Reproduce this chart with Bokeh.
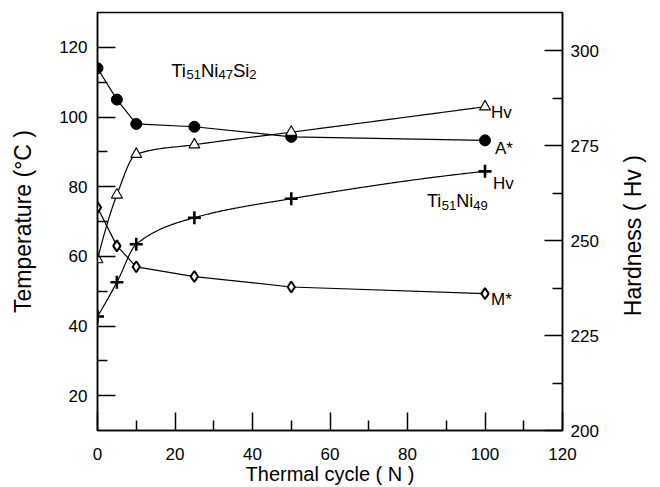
import math
import numpy as np
from bokeh.plotting import figure
from bokeh.layouts import row
from bokeh.models import Range1d, LinearAxis, FixedTicker, Label
from bokeh.embed import file_html
from bokeh.resources import INLINE

# ---- data ----
cycles = [0, 5, 10, 25, 50, 100]
a_star = [114, 105, 98, 97.2, 94.3, 93.3]          # A* temperature (°C), Ti51Ni47Si2
m_star = [74, 63, 57, 54.2, 51.2, 49.3]            # M* temperature (°C), Ti51Ni47Si2
hv_tinisi = [245, 262, 272.7, 275.2, 278.5, 285.2]  # hardness, Ti51Ni47Si2
hv_tini = [230, 239, 249, 256, 261, 268.2]          # hardness, Ti51Ni49

x_ticks = [0, 20, 40, 60, 80, 100, 120]
x_minor = [10, 30, 50, 70, 90, 110]
t_ticks = [20, 40, 60, 80, 100, 120]
t_minor = [30, 50, 70, 90, 110]
h_ticks = [200, 225, 250, 275, 300]
h_minor = [212.5, 237.5, 262.5, 287.5]

FONT = "Liberation Sans"


def pchip(x, y, xs):
    x = np.asarray(x, float)
    y = np.asarray(y, float)
    h = np.diff(x)
    d = np.diff(y) / h
    n = len(x)
    m = np.zeros(n)
    for k in range(1, n - 1):
        if d[k - 1] * d[k] > 0:
            w1 = 2 * h[k] + h[k - 1]
            w2 = h[k] + 2 * h[k - 1]
            m[k] = (w1 + w2) / (w1 / d[k - 1] + w2 / d[k])
    m0 = ((2 * h[0] + h[1]) * d[0] - h[0] * d[1]) / (h[0] + h[1])
    if np.sign(m0) != np.sign(d[0]):
        m0 = 0
    elif np.sign(d[0]) != np.sign(d[1]) and abs(m0) > abs(3 * d[0]):
        m0 = 3 * d[0]
    m[0] = m0
    mn = ((2 * h[-1] + h[-2]) * d[-1] - h[-1] * d[-2]) / (h[-1] + h[-2])
    if np.sign(mn) != np.sign(d[-1]):
        mn = 0
    elif np.sign(d[-1]) != np.sign(d[-2]) and abs(mn) > abs(3 * d[-1]):
        mn = 3 * d[-1]
    m[-1] = mn
    xs = np.asarray(xs, float)
    idx = np.clip(np.searchsorted(x, xs) - 1, 0, n - 2)
    t = (xs - x[idx]) / h[idx]
    h00 = 2 * t**3 - 3 * t**2 + 1
    h10 = t**3 - 2 * t**2 + t
    h01 = -2 * t**3 + 3 * t**2
    h11 = t**3 - t**2
    return h00 * y[idx] + h10 * h[idx] * m[idx] + h01 * y[idx + 1] + h11 * h[idx] * m[idx + 1]


p = figure(width=602, height=487,
           x_range=Range1d(0, 120), y_range=Range1d(10, 130),
           output_backend="svg", toolbar_location=None,
           min_border_left=97, min_border_right=40,
           min_border_top=12, min_border_bottom=52)
p.extra_y_ranges = {"hv": Range1d(200, 310)}
p.add_layout(LinearAxis(y_range_name="hv"), "right")

p.grid.visible = False
p.outline_line_color = "black"
p.outline_line_width = 1.5
p.background_fill_color = "white"
p.border_fill_color = "white"


def style(ax, ticks, minor, label):
    ax.ticker = FixedTicker(ticks=ticks, minor_ticks=minor)
    ax.axis_label = label
    ax.axis_line_color = "black"
    ax.axis_line_width = 1.5
    ax.major_tick_in = 18
    ax.major_tick_out = 0
    ax.minor_tick_in = 10
    ax.minor_tick_out = 0
    ax.major_tick_line_width = 1.5
    ax.minor_tick_line_width = 1.5
    ax.major_tick_line_color = "black"
    ax.minor_tick_line_color = "black"
    ax.major_label_text_font = FONT
    ax.major_label_text_font_size = "17px"
    ax.major_label_text_color = "black"
    ax.axis_label_text_font = FONT
    ax.axis_label_text_font_size = "20px"
    ax.axis_label_text_font_style = "normal"
    ax.axis_label_text_color = "black"


xa = p.below[0]
ya = p.left[0]
ra = p.right[0]
style(xa, x_ticks, x_minor, "Thermal cycle ( N )")
style(ya, t_ticks, t_minor, "Temperature (°C )")
style(ra, h_ticks, h_minor, None)
ya.axis_label_text_font_size = "23px"
xa.major_label_standoff = 17
xa.axis_label_standoff = 0
ya.major_label_standoff = 10
ya.axis_label_standoff = 20
ra.major_label_standoff = 8

xs = np.linspace(0, 100, 400)

# lines
p.line(cycles, a_star, line_color="black", line_width=1.2)
p.line(cycles, m_star, line_color="black", line_width=1.2)
p.line(xs, pchip(cycles, hv_tinisi, xs), line_color="black", line_width=1.2, y_range_name="hv")
p.line(xs, pchip(cycles, hv_tini, xs), line_color="black", line_width=1.2, y_range_name="hv")

# markers
p.scatter(cycles, a_star, marker="circle", size=11, fill_color="black", line_color="black")
p.scatter(cycles, m_star, marker="diamond", size=11, fill_color="white", line_color="black", line_width=2)
p.scatter(cycles, hv_tinisi, marker="triangle", size=11, fill_color="white", line_color="black",
          line_width=1.1, y_range_name="hv")
p.scatter(cycles, hv_tini, marker="cross", size=13, line_color="black", line_width=2.6, y_range_name="hv")


# series labels
def series_label(text, x, y, xo, yo, rng="default"):
    lab = Label(x=x, y=y, text=text, x_offset=xo, y_offset=yo, text_font=FONT,
                text_font_size="17px", text_color="black", text_baseline="alphabetic")
    if rng != "default":
        lab.y_range_name = rng
    p.add_layout(lab)


series_label("Hv", cycles[-1], hv_tinisi[-1], 6, -6, "hv")
series_label("A*", cycles[-1], a_star[-1], 10, -8)
series_label("Hv", cycles[-1], hv_tini[-1], 8, -12, "hv")
series_label("M*", cycles[-1], m_star[-1], 6, -6)


# composition labels with subscripts
def formula(parts, x, y, main_size, sub_size, sub_drop):
    off = 0.0
    widths = {"T": 0.611, "i": 0.222, "N": 0.722, "S": 0.667}
    for txt, is_sub in parts:
        size = sub_size if is_sub else main_size
        p.add_layout(Label(x=x, y=y, text=txt, x_offset=off, y_offset=(-sub_drop if is_sub else 0),
                           text_font=FONT, text_font_size=f"{size}px", text_color="black",
                           text_baseline="alphabetic"))
        off += sum(widths.get(c, 0.556) for c in txt) * size


formula([("Ti", False), ("51", True), ("Ni", False), ("47", True), ("Si", False), ("2", True)],
        19, 113.3, 18.5, 13, 4)
formula([("Ti", False), ("51", True), ("Ni", False), ("49", True)],
        85, 75.8, 18, 13, 4)

# narrow side panel carrying the right-hand axis title (reads bottom-to-top)
side = figure(width=58, height=487, x_range=Range1d(0, 58), y_range=Range1d(0, 487),
              output_backend="svg", toolbar_location=None,
              min_border_left=0, min_border_right=0, min_border_top=0, min_border_bottom=0)
side.axis.visible = False
side.grid.visible = False
side.outline_line_color = None
side.background_fill_color = "white"
side.border_fill_color = "white"
side.text(x=[30], y=[227], text=["Hardness ( Hv )"], angle=math.pi / 2,
          text_align="center", text_baseline="middle", text_font_size="23px",
          text_color="black", text_font={"value": FONT})

layout = row(p, side, spacing=0)
open("out.html", "w").write(file_html(layout, INLINE))
